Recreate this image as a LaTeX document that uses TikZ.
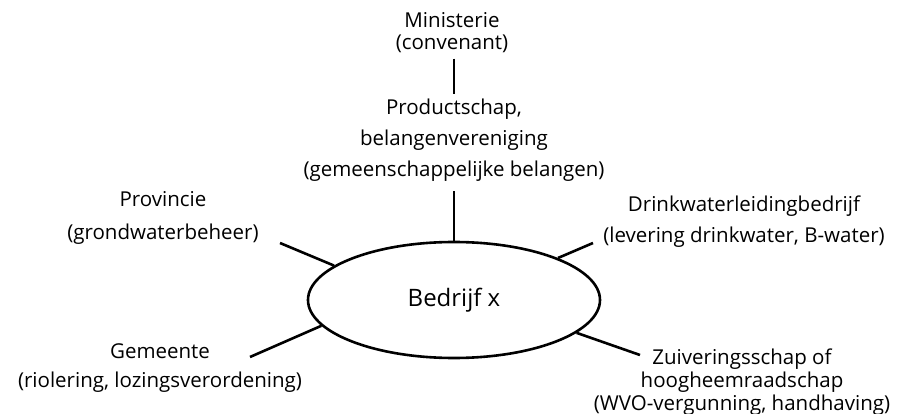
\documentclass[tikz,border=0pt]{standalone}
\usepackage{fontspec}
\setmainfont{Open Sans}
\usetikzlibrary{shapes.geometric}

\begin{document}
\begin{tikzpicture}[
  x=1pt,y=-1pt,line width=2.6pt,
  lbl/.style={align=center,inner sep=0pt,anchor=base,font=\fontsize{20.5}{#1}\selectfont},
  lbl/.default=23,
  ell/.style={ellipse,draw,inner sep=0pt,minimum width=292pt,minimum height=116pt,font=\fontsize{24}{28}\selectfont}
]
  \useasboundingbox (0,0) rectangle (914,414);
  \node[ell] (bedrijf) at (454,300) {Bedrijf x};
  \node[lbl=22] (min) at (452,50) {Ministerie\\(convenant)};
  \node[lbl=31] (prod) at (454,177) {Productschap,\\belangenvereniging\\(gemeenschappelijke belangen)};
  \node[lbl=33] (prov) at (163,240) {Provincie\\(grondwaterbeheer)};
  \node[lbl=31] (drink) at (744,243) {Drinkwaterleidingbedrijf\\(levering drinkwater, B-water)};
  \node[lbl=29] (gem) at (160,388) {Gemeente\\(riolering, lozingsverordening)};
  \node[lbl] (zuiv) at (742,410) {Zuiveringsschap of\\hoogheemraadschap\\(WVO-vergunning, handhaving)};

  \coordinate (provEnd) at (280,243);
  \coordinate (drinkEnd) at (593,243);
  \coordinate (gemEnd) at (250,357);
  \coordinate (zuivEnd) at (640,355);

  \draw[shorten <=4pt,shorten >=4pt] (min.south -| prod.north) -- (prod.north);
  \draw[shorten <=8pt] (prod.south) -- (bedrijf.north);
  \draw (provEnd) -- (bedrijf.164);
  \draw (drinkEnd) -- (bedrijf.22.6);
  \draw (gemEnd) -- (bedrijf.191.6);
  \draw (zuivEnd) -- (bedrijf.345.5);
\end{tikzpicture}
\end{document}
